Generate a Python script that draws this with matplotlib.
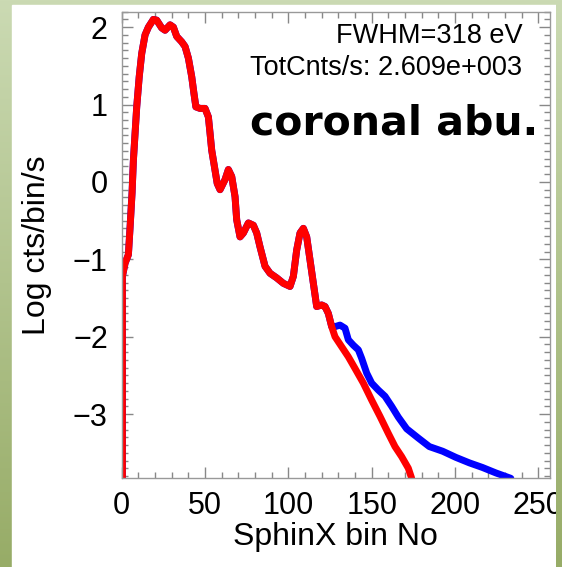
import numpy as np
import matplotlib
matplotlib.use("Agg")
import matplotlib.pyplot as plt
from matplotlib.ticker import MultipleLocator
from matplotlib.patches import Rectangle
from matplotlib.colors import LinearSegmentedColormap

plt.rcParams['font.family'] = ['Liberation Sans', 'DejaVu Sans']

# Both spectra coincide up to bin ~126
shared_bin = [0.4, 0.4, 2.0, 4.0, 5.0, 6.2, 7.0, 9.0, 10.5, 12, 14, 16, 19, 21, 24, 26,
              29, 31, 33, 36, 38, 40, 42, 43.3, 44.5, 47, 50, 52, 53, 54, 56, 57.3,
              59, 62, 64, 66, 68, 69, 71, 73, 76, 79, 81, 83, 86, 89, 93, 97,
              101, 103, 105, 107, 109, 111, 113, 115, 117, 120, 122, 124, 126]
shared_log = [-3.83, -1.22, -1.05, -0.94, -0.59, -0.14, 0.28, 0.97, 1.36, 1.66, 1.90, 2.0,
              2.10, 2.09, 1.99, 1.96, 2.03, 2.0, 1.88, 1.81, 1.75, 1.60, 1.36, 1.15,
              0.97, 0.95, 0.95, 0.84, 0.63, 0.41, 0.15, -0.02, -0.10, 0.03, 0.16, 0.07,
              -0.19, -0.49, -0.71, -0.66, -0.53, -0.56, -0.66, -0.84, -1.09, -1.18,
              -1.24, -1.31, -1.35, -1.22, -0.88, -0.66, -0.60, -0.71, -1.01, -1.31,
              -1.61, -1.59, -1.61, -1.70, -1.87]

# blue tail
blue_bin = [128, 131, 134, 136, 139, 142, 144, 147, 150, 154, 158, 162, 166, 171,
            178, 184.6, 192.6, 200.6, 208.6, 216.5, 224.5, 233.5]
blue_log = [-1.87, -1.85, -1.89, -2.04, -2.11, -2.17, -2.28, -2.47, -2.60, -2.69,
            -2.77, -2.90, -3.04, -3.19, -3.31, -3.42, -3.48, -3.56, -3.63, -3.69,
            -3.76, -3.83]

# red tail (coronal abundances)
red_bin = [128, 132, 136, 140, 145, 150, 155, 160, 164, 168, 172, 174]
red_log = [-2.0, -2.13, -2.26, -2.41, -2.60, -2.82, -3.03, -3.25, -3.42, -3.55,
           -3.70, -3.83]

fig = plt.figure(figsize=(5.62, 5.67), dpi=100)

# slide background: green gradient with white panel
green = LinearSegmentedColormap.from_list('slide', ['#cbdab3', '#97ac67'])
grad = np.linspace(0, 1, 256)[:, None]
bg = fig.add_axes([0, 0, 1, 1], zorder=-5)
bg.imshow(grad, aspect='auto', cmap=green, extent=[0, 1, 0, 1])
bg.add_patch(Rectangle((12 / 562, 0), (556 - 12) / 562, 1 - 5 / 567, color='white'))
bg.set_xlim(0, 1)
bg.set_ylim(0, 1)
bg.axis('off')

ax = fig.add_axes([0.2166, 0.1564, 0.762, 0.823])
ax.plot(shared_bin + blue_bin, shared_log + blue_log, color='#0000ff', lw=5,
        solid_capstyle='round', solid_joinstyle='round')
ax.plot(shared_bin + red_bin, shared_log + red_log, color='#ff0000', lw=5,
        solid_capstyle='round', solid_joinstyle='round')

ax.set_xlim(0, 257)
ax.set_ylim(-3.83, 2.2)
ax.xaxis.set_major_locator(MultipleLocator(50))
ax.xaxis.set_minor_locator(MultipleLocator(10))
ax.yaxis.set_major_locator(MultipleLocator(1))
ax.yaxis.set_minor_locator(MultipleLocator(0.1))
ax.tick_params(which='both', direction='in', top=True, right=True,
               color='#888888', width=1, labelsize=22)
ax.tick_params(which='major', length=8)
ax.tick_params(which='minor', length=4)
ax.tick_params(axis='y', pad=10)
ax.tick_params(axis='x', pad=9)
for s in ax.spines.values():
    s.set_color('#999999')
    s.set_linewidth(1)

ax.set_xlabel('SphinX bin No', fontsize=23, labelpad=1)
ax.set_ylabel('Log cts/bin/s', fontsize=23, labelpad=15)

ax.text(0.935, 0.948, 'FWHM=318 eV', transform=ax.transAxes, ha='right',
        va='center', fontsize=19.5)
ax.text(0.935, 0.879, 'TotCnts/s: 2.609e+003', transform=ax.transAxes, ha='right',
        va='center', fontsize=19.5)
ax.text(0.972, 0.76, 'coronal abu.', transform=ax.transAxes, ha='right',
        va='center', fontsize=29.5, fontweight='bold', family='DejaVu Sans')

# green strip on the right clips the last tick label
rs = fig.add_axes([556 / 562, 0, 6 / 562, 1], zorder=5)
rs.imshow(grad, aspect='auto', cmap=green, extent=[0, 1, 0, 1])
rs.axis('off')

fig.savefig('out.png', dpi=100)
